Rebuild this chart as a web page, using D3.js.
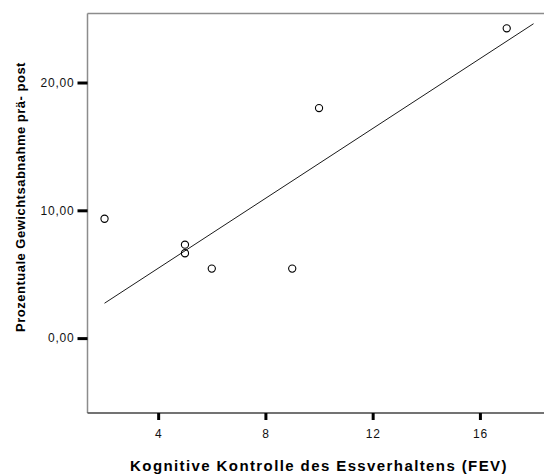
<!DOCTYPE html>
<html>
<head>
<meta charset="utf-8">
<script src="https://cdn.jsdelivr.net/npm/d3@7"></script>
<style>
  body { margin: 0; background: #fff; }
  text { font-family: "Liberation Sans", Arial, sans-serif; }
</style>
</head>
<body>
<div id="chart"></div>
<script>
const width = 544;
const height = 476;

// data
const fevScores = [2, 5, 5, 6, 9, 10, 17];
const weightLoss = [9.34, 7.31, 6.64, 5.44, 5.44, 18.0, 24.24];
const fitLineX = [2, 18];
const fitLineY = [2.73, 24.6];
const xTicks = [4, 8, 12, 16];
const yTicks = [0, 10, 20];

const margin = { top: 13.5, right: 0, bottom: 63, left: 87.5 };

const x = d3.scaleLinear()
  .domain([1.365, 18.39])
  .range([margin.left, width - margin.right]);

const y = d3.scaleLinear()
  .domain([-5.86, 25.4])
  .range([height - margin.bottom, margin.top]);

const svg = d3.select("#chart")
  .append("svg")
  .attr("width", width)
  .attr("height", height);

// frame lines
svg.append("line")
  .attr("x1", margin.left).attr("x2", width)
  .attr("y1", margin.top).attr("y2", margin.top)
  .attr("stroke", "#8c8c8c").attr("stroke-width", 1.5);

svg.append("line")
  .attr("x1", margin.left).attr("x2", margin.left)
  .attr("y1", margin.top).attr("y2", height - margin.bottom)
  .attr("stroke", "#8c8c8c").attr("stroke-width", 1.5);

svg.append("line")
  .attr("x1", margin.left).attr("x2", width)
  .attr("y1", height - margin.bottom).attr("y2", height - margin.bottom)
  .attr("stroke", "#444").attr("stroke-width", 1.3);

// axes
const yAxis = svg.append("g")
  .attr("transform", `translate(${margin.left},0)`)
  .call(d3.axisLeft(y).tickValues(yTicks).tickSize(10).tickPadding(4)
    .tickFormat(d => d3.format(".2f")(d).replace(".", ",")));

const xAxis = svg.append("g")
  .attr("transform", `translate(0,${height - margin.bottom})`)
  .call(d3.axisBottom(x).tickValues(xTicks).tickSize(7).tickPadding(9)
    .tickFormat(d3.format("d")));

[xAxis, yAxis].forEach(g => {
  g.select(".domain").remove();
  g.selectAll(".tick line").attr("stroke", "#000").attr("stroke-width", 3);
  g.selectAll(".tick text")
    .attr("fill", "#111")
    .style("font-size", "12px")
    .style("letter-spacing", "0.8px")
    .style("font-family", "'Liberation Sans', Arial, sans-serif");
});
yAxis.selectAll(".tick text").attr("dx", "1px");

// regression line
svg.append("line")
  .attr("x1", x(fitLineX[0])).attr("y1", y(fitLineY[0]))
  .attr("x2", x(fitLineX[1])).attr("y2", y(fitLineY[1]))
  .attr("stroke", "#000").attr("stroke-width", 0.9);

// points
svg.append("g")
  .selectAll("circle")
  .data(fevScores.map((v, i) => [v, weightLoss[i]]))
  .enter()
  .append("circle")
  .attr("cx", d => x(d[0]))
  .attr("cy", d => y(d[1]))
  .attr("r", 3.6)
  .attr("fill", "none")
  .attr("stroke", "#000")
  .attr("stroke-width", 1.1);

// axis titles
svg.append("text")
  .attr("x", 319)
  .attr("y", 471)
  .attr("text-anchor", "middle")
  .style("font-size", "15px")
  .style("font-weight", "bold")
  .style("letter-spacing", "1.4px")
  .text("Kognitive Kontrolle des Essverhaltens (FEV)");

svg.append("text")
  .attr("transform", "translate(25,197) rotate(-90)")
  .attr("text-anchor", "middle")
  .style("font-size", "13px")
  .style("font-weight", "bold")
  .style("letter-spacing", "0.5px")
  .text("Prozentuale Gewichtsabnahme prä- post");
</script>
</body>
</html>
